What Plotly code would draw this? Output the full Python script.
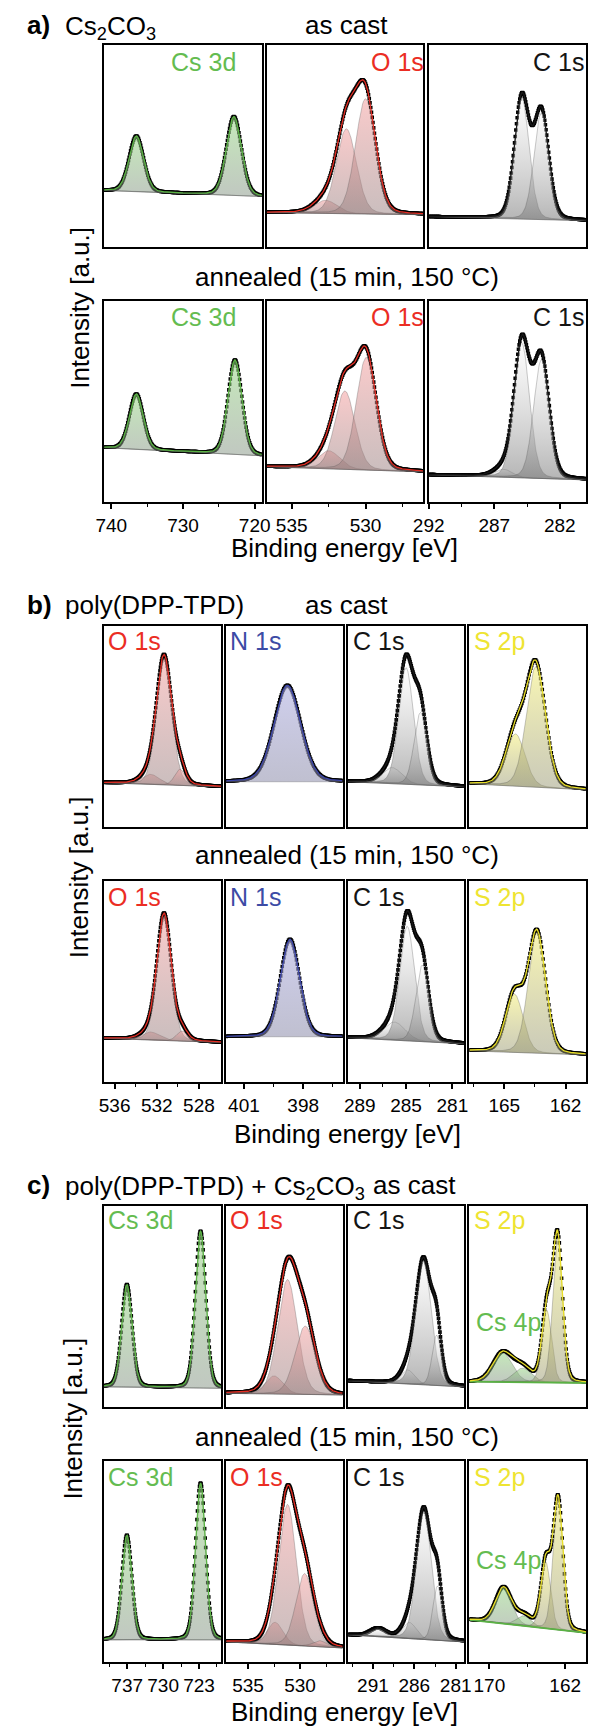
import numpy as np
import plotly.graph_objects as go

# ======================= DATA =======================
# Peak lists: [centre (eV), height above background (fraction of panel), FWHM (eV)]
# Background: [value at left edge, value at right edge] (fraction of panel height)

# ---- (a) Cs2CO3 ----
a_species = ["Cs 3d", "O 1s", "C 1s"]
a_xrange = [[741.0, 719.0], [536.7, 526.1], [292.0, 280.0]]
a_ticks = [[740, 730, 720], [535, 530], [292, 287, 282]]
a_minor = [[735, 725], [532.5, 527.5], [289.5, 284.5]]
a_step = [0.1, 0.05, 0.05]

a_cast_base = [[0.28, 0.25], [0.17, 0.16], [0.15, 0.13]]
a_cast_cs3d = [[736.5, 0.275, 2.4], [722.9, 0.39, 2.5]]
a_cast_o1s = [[532.7, 0.065, 1.8], [531.3, 0.42, 1.6], [530.0, 0.57, 1.6]]
a_cast_c1s = [[284.9, 0.60, 1.32], [283.4, 0.53, 1.32]]

a_ann_base = [[0.27, 0.23], [0.175, 0.15], [0.135, 0.11]]
a_ann_cs3d = [[736.5, 0.275, 2.3], [722.75, 0.47, 2.3]]
a_ann_o1s = [[532.5, 0.09, 1.8], [531.4, 0.39, 1.6], [529.95, 0.56, 1.6]]
a_ann_c1s = [[286.3, 0.04, 1.6], [284.9, 0.67, 1.4], [283.4, 0.59, 1.4]]

# ---- (b) poly(DPP-TPD) ----
b_species = ["O 1s", "N 1s", "C 1s", "S 2p"]
b_xrange = [[537.0, 525.9], [401.9, 396.0], [290.0, 280.0], [166.7, 161.0]]
b_ticks = [[536, 532, 528], [401, 398], [289, 285, 281], [165, 162]]
b_minor = [[534, 530], [399.5, 396.5], [287, 283], [166.5, 163.5]]
b_step = [0.05, 0.04, 0.05, 0.04]

b_cast_base = [[0.22, 0.20], [0.225, 0.225], [0.225, 0.20], [0.215, 0.185]]
b_cast_o1s = [[532.6, 0.05, 2.0], [531.3, 0.63, 1.7], [529.8, 0.08, 1.2]]
b_cast_n1s = [[398.8, 0.48, 1.6]]
b_cast_c1s = [[286.2, 0.08, 2.0], [285.0, 0.58, 1.5], [283.75, 0.36, 1.3]]
b_cast_s2p = [[164.45, 0.26, 1.1], [163.45, 0.60, 1.1]]

b_ann_base = [[0.217, 0.197], [0.225, 0.225], [0.22, 0.19], [0.155, 0.135]]
b_ann_o1s = [[532.6, 0.04, 2.0], [531.3, 0.62, 1.6], [529.6, 0.05, 1.2]]
b_ann_n1s = [[398.67, 0.485, 1.15]]
b_ann_c1s = [[286.0, 0.09, 2.2], [284.9, 0.57, 1.5], [283.6, 0.38, 1.3]]
b_ann_s2p = [[164.5, 0.29, 1.0], [163.4, 0.60, 1.0]]

# ---- (c) poly(DPP-TPD) + Cs2CO3 ----
c_species = ["Cs 3d", "O 1s", "C 1s", "S 2p"]
c_xrange = [[741.5, 718.7], [537.1, 525.9], [294.0, 280.0], [172.1, 159.8]]
c_ticks = [[737, 730, 723], [535, 530], [291, 286, 281], [170, 162]]
c_minor = [[740.5, 733.5, 726.5, 719.5], [532.5, 527.5], [293.5, 288.5, 283.5], [166]]
c_step = [0.1, 0.05, 0.06, 0.06]

c_cast_base = [[0.10, 0.093], [0.068, 0.06], [0.13, 0.10], [0.126, 0.12]]
c_cast_cs3d = [[737.06, 0.51, 2.4], [722.7, 0.78, 2.4]]
c_cast_o1s = [[532.5, 0.09, 2.0], [531.2, 0.57, 2.2], [529.5, 0.34, 2.3]]
c_cast_c1s = [[286.8, 0.07, 2.0], [284.9, 0.62, 2.2], [283.3, 0.25, 1.3]]
c_cast_s2p = [[168.6, 0.145, 2.4], [166.5, 0.07, 2.2], [163.95, 0.36, 1.2], [162.8, 0.72, 1.2]]
c_cast_s2p_species = ["Cs 4p", "Cs 4p", "S 2p", "S 2p"]

c_ann_base = [[0.11, 0.11], [0.10, 0.07], [0.135, 0.10], [0.21, 0.145]]
c_ann_cs3d = [[737.06, 0.52, 2.3], [722.7, 0.78, 2.3]]
c_ann_o1s = [[532.4, 0.11, 1.8], [531.2, 0.70, 2.0], [529.55, 0.36, 2.0], [528.1, 0.03, 1.5]]
c_ann_c1s = [[290.4, 0.04, 2.2], [286.6, 0.08, 2.0], [284.85, 0.64, 2.1], [283.2, 0.27, 1.3]]
c_ann_s2p = [[168.5, 0.18, 2.0], [166.35, 0.05, 1.8], [164.05, 0.33, 1.2], [162.75, 0.65, 1.2]]
c_ann_s2p_species = ["Cs 4p", "Cs 4p", "S 2p", "S 2p"]

# ======================= STYLE / LAYOUT =======================
W, H = 595, 1726
FONT = "Liberation Sans, Arial, sans-serif"

STYLE = {
    "Cs 3d": dict(line="rgb(90,178,68)", text="rgb(100,188,80)",
                  top="rgba(150,215,130,0.55)", bot="rgba(130,145,130,0.5)"),
    "Cs 4p": dict(line="rgb(90,178,68)", text="rgb(100,188,80)",
                  top="rgba(150,215,130,0.55)", bot="rgba(130,145,130,0.5)"),
    "O 1s": dict(line="rgb(228,45,35)", text="rgb(235,45,35)",
                 top="rgba(245,160,160,0.55)", bot="rgba(150,125,125,0.5)"),
    "C 1s": dict(line="rgb(25,25,25)", text="rgb(20,20,20)",
                 top="rgba(250,250,250,0.4)", bot="rgba(120,120,120,0.55)"),
    "N 1s": dict(line="rgb(60,70,170)", text="rgb(60,75,165)",
                 top="rgba(175,175,225,0.6)", bot="rgba(140,140,170,0.55)"),
    "S 2p": dict(line="rgb(232,222,40)", text="rgb(238,228,50)",
                 top="rgba(245,240,130,0.6)", bot="rgba(150,150,115,0.5)"),
}

a_cols = [[91.8, 256.2], [261.1, 424.3], [430.0, 594.0]]
bc_cols = [[91.8, 213.7], [219.0, 340.4], [346.1, 466.8], [472.5, 594.0]]

fig = go.Figure()
layout_axes = {}
panel_no = [0]


def profile(x, c, h, w):
    g = np.exp(-4.0 * np.log(2.0) * ((x - c) / w) ** 2)
    lor = 1.0 / (1.0 + 4.0 * ((x - c) / w) ** 2)
    return h * (0.85 * g + 0.15 * lor)


def text(px, py, s, size=26, color="black", xanchor="left", angle=0):
    fig.add_annotation(x=px / W, y=1 - py / H, xref="paper", yref="paper", text=s,
                       showarrow=False, xanchor=xanchor, yanchor="middle", textangle=angle,
                       font=dict(size=size, color=color, family=FONT))


def panel(col, row, xr, step, base, peaks, species, peak_species, show_ticks, ticks, minor,
          label, label_pos):
    panel_no[0] += 1
    k = panel_no[0]
    xn, yn = ("xaxis", "yaxis") if k == 1 else (f"xaxis{k}", f"yaxis{k}")
    xref, yref = ("x", "y") if k == 1 else (f"x{k}", f"y{k}")

    xs = np.arange(xr[0], xr[1] - 1e-9, -step)
    bl = base[0] + (base[1] - base[0]) * (xr[0] - xs) / (xr[0] - xr[1])
    comps = [profile(xs, *p) for p in peaks]
    env = bl + np.sum(comps, axis=0)

    # measured points
    fig.add_trace(go.Scatter(x=xs, y=env, mode="markers", xaxis=xref, yaxis=yref,
                             marker=dict(symbol="square", size=3.6, color="black",
                                         line=dict(width=0)), hoverinfo="skip"))
    # fitted components
    for comp, sp in zip(comps, peak_species):
        st = STYLE[sp]
        px_ = np.concatenate([xs, xs[::-1]])
        py_ = np.concatenate([bl + comp, bl[::-1]])
        fig.add_trace(go.Scatter(x=px_, y=py_, mode="lines", fill="toself", xaxis=xref, yaxis=yref,
                                 line=dict(color="rgba(80,80,80,0.5)", width=0.6),
                                 fillcolor=st["top"],
                                 fillgradient=dict(type="vertical",
                                                   colorscale=[[0, st["bot"]], [1, st["top"]]]),
                                 hoverinfo="skip"))
    main = STYLE[species]
    if any(sp != species for sp in peak_species):
        fig.add_trace(go.Scatter(x=xs, y=bl, mode="lines", xaxis=xref, yaxis=yref,
                                 line=dict(color=STYLE["Cs 4p"]["line"], width=1.8),
                                 hoverinfo="skip"))
    # envelope
    fig.add_trace(go.Scatter(x=xs, y=env, mode="lines", xaxis=xref, yaxis=yref,
                             line=dict(color=main["line"], width=1.3), hoverinfo="skip"))

    xa = dict(domain=[col[0] / W, col[1] / W], range=xr, anchor=yref,
              showline=True, mirror=True, linecolor="black", linewidth=1.8,
              showgrid=False, zeroline=False, fixedrange=True,
              tickvals=ticks, ticktext=[str(t) for t in ticks],
              showticklabels=show_ticks, ticks="outside" if show_ticks else "",
              ticklen=5, tickwidth=1.5, tickcolor="black",
              tickfont=dict(size=19, color="black", family=FONT))
    if show_ticks:
        xa["minor"] = dict(tickvals=minor, ticks="outside", ticklen=3, tickwidth=1.2,
                           tickcolor="black", showgrid=False)
    ya = dict(domain=[1 - row[1] / H, 1 - row[0] / H], range=[0, 1], anchor=xref,
              showline=True, mirror=True, linecolor="black", linewidth=1.8,
              showgrid=False, zeroline=False, showticklabels=False, ticks="",
              fixedrange=True)
    layout_axes[xn] = xa
    layout_axes[yn] = ya

    text(label_pos[0], label_pos[1], label, size=25, color=STYLE[label]["text"])


# ---------------- group (a) ----------------
a_rows = [[45, 247], [301, 502]]
a_cast_peaks = [a_cast_cs3d, a_cast_o1s, a_cast_c1s]
a_ann_peaks = [a_ann_cs3d, a_ann_o1s, a_ann_c1s]
a_label_x = [159, 368, 537]
for r, (bases, peaks) in enumerate([(a_cast_base, a_cast_peaks), (a_ann_base, a_ann_peaks)]):
    for i in range(3):
        panel(a_cols[i], a_rows[r], a_xrange[i], a_step[i], bases[i], peaks[i], a_species[i],
              [a_species[i]] * len(peaks[i]), r == 1, a_ticks[i], a_minor[i],
              a_species[i], (a_label_x[i], [62, 317][r]))

# ---------------- group (b) ----------------
b_rows = [[626, 827], [881, 1082]]
b_cast_peaks = [b_cast_o1s, b_cast_n1s, b_cast_c1s, b_cast_s2p]
b_ann_peaks = [b_ann_o1s, b_ann_n1s, b_ann_c1s, b_ann_s2p]
bc_label_x = [94, 221, 349, 475.5]
for r, (bases, peaks) in enumerate([(b_cast_base, b_cast_peaks), (b_ann_base, b_ann_peaks)]):
    for i in range(4):
        panel(bc_cols[i], b_rows[r], b_xrange[i], b_step[i], bases[i], peaks[i], b_species[i],
              [b_species[i]] * len(peaks[i]), r == 1, b_ticks[i], b_minor[i],
              b_species[i], (bc_label_x[i], [641, 897][r]))

# ---------------- group (c) ----------------
c_rows = [[1206, 1407], [1461, 1662]]
c_cast_peaks = [c_cast_cs3d, c_cast_o1s, c_cast_c1s, c_cast_s2p]
c_ann_peaks = [c_ann_cs3d, c_ann_o1s, c_ann_c1s, c_ann_s2p]
c_peak_species = [
    [["Cs 3d"] * 2, ["O 1s"] * 3, ["C 1s"] * 3, c_cast_s2p_species],
    [["Cs 3d"] * 2, ["O 1s"] * 4, ["C 1s"] * 4, c_ann_s2p_species],
]
for r, (bases, peaks) in enumerate([(c_cast_base, c_cast_peaks), (c_ann_base, c_ann_peaks)]):
    for i in range(4):
        panel(bc_cols[i], c_rows[r], c_xrange[i], c_step[i], bases[i], peaks[i], c_species[i],
              c_peak_species[r][i], r == 1, c_ticks[i], c_minor[i],
              c_species[i], (bc_label_x[i], [1220, 1477][r]))
    text(477, [1322, 1560][r], "Cs 4p", size=25, color=STYLE["Cs 4p"]["text"])

# ---------------- titles & axis labels ----------------
text(9.5, 25, "<b>a)</b>")
text(49, 27, "Cs<sub>2</sub>CO<sub>3</sub>")
text(344, 25, "as cast", xanchor="center")
text(345, 277, "annealed (15 min, 150 °C)", xanchor="center")
text(342.5, 548, "Binding energy [eV]", xanchor="center")
text(66, 307.5, "Intensity [a.u.]", xanchor="center", angle=-90)

text(9.5, 605, "<b>b)</b>")
text(49, 605, "poly(DPP-TPD)")
text(344, 605, "as cast", xanchor="center")
text(345, 855, "annealed (15 min, 150 °C)", xanchor="center")
text(345.5, 1134, "Binding energy [eV]", xanchor="center")
text(66, 877, "Intensity [a.u.]", xanchor="center", angle=-90)

text(9.5, 1185, "<b>c)</b>")
text(49, 1187, "poly(DPP-TPD) + Cs<sub>2</sub>CO<sub>3</sub>")
text(370, 1185, "as cast")
text(345, 1437, "annealed (15 min, 150 °C)", xanchor="center")
text(342.5, 1712, "Binding energy [eV]", xanchor="center")
text(59, 1419, "Intensity [a.u.]", xanchor="center", angle=-90)

fig.update_layout(width=W, height=H, margin=dict(l=0, r=0, t=0, b=0),
                  paper_bgcolor="white", plot_bgcolor="white",
                  showlegend=False, hovermode=False,
                  font=dict(family=FONT, color="black"), **layout_axes)

fig.write_html("out.html", config={"displayModeBar": False, "responsive": False},
               post_script="document.body.style.margin='0px';"
                           "document.documentElement.style.overflow='hidden';"
                           "document.body.style.overflow='hidden';")
